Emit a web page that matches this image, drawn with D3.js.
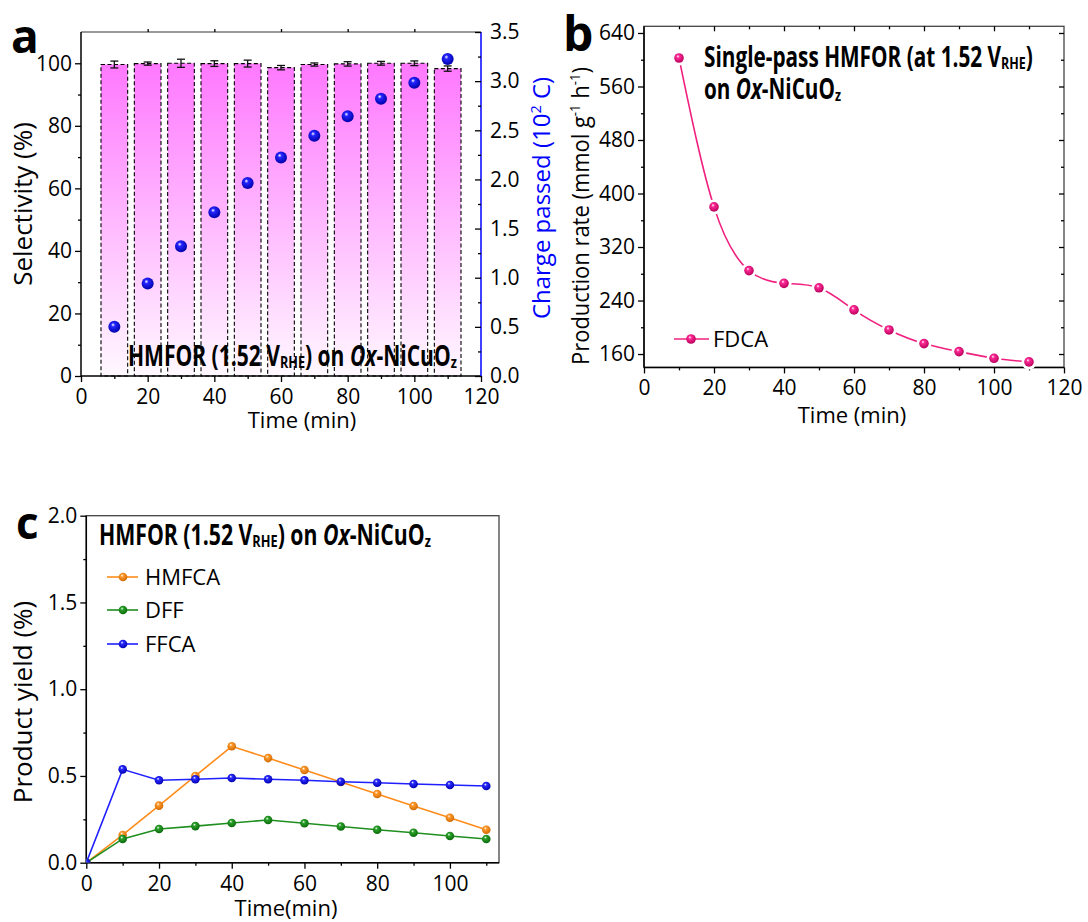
<!DOCTYPE html>
<html><head><meta charset="utf-8">
<script src="https://cdn.jsdelivr.net/npm/d3@7"></script>
<style>
body{margin:0;background:#fff}
svg{display:block}
text{font-family:'Open Sans',sans-serif}
.axis path,.axis line{stroke:#000;stroke-width:1.3}
.axis text{font-size:21px;fill:#000;font-family:'Open Sans',sans-serif}
</style>
</head><body>
<svg id="chart" width="1088" height="922"></svg>
<script>
// ---------- data ----------
const timesA = [10,20,30,40,50,60,70,80,90,100,110];
const selectivity = [99.6,99.9,100.0,99.9,99.9,98.6,99.6,99.8,100.0,100.0,98.3];
const selectivityErr = [1.1,0.5,1.3,0.9,1.1,0.7,0.5,0.7,0.6,0.75,0.85];
const chargePassed = [0.50,0.94,1.32,1.665,1.963,2.223,2.444,2.643,2.822,2.984,3.225];

const timesB = [10,20,30,40,50,60,70,80,90,100,110];
const fdcaRate = [602.6,380,284.7,265.7,259,226,196,175.6,163.6,153.6,148.2];

const timesC = [0,10,20,30,40,50,60,70,80,90,100,110];
const hmfcaYield = [0,0.16,0.329,0.50,0.671,0.603,0.534,0.465,0.396,0.327,0.259,0.19];
const dffYield   = [0,0.137,0.194,0.211,0.229,0.246,0.227,0.209,0.19,0.173,0.154,0.137];
const ffcaYield  = [0,0.538,0.475,0.481,0.488,0.481,0.475,0.467,0.461,0.454,0.448,0.442];

const ticksTime = [0,20,40,60,80,100,120];
const ticksSel = [0,20,40,60,80,100];
const ticksCharge = [0.0,0.5,1.0,1.5,2.0,2.5,3.0,3.5];
const ticksRate = [160,240,320,400,480,560,640];
const ticksTimeC = [0,20,40,60,80,100];
const ticksYield = [0.0,0.5,1.0,1.5,2.0];

// ---------- setup ----------
const svg = d3.select('#chart');
const defs = svg.append('defs');
function sphereGrad(id, base, dark){
  const g = defs.append('radialGradient').attr('id',id)
    .attr('cx','45%').attr('cy','40%').attr('r','60%').attr('fx','38%').attr('fy','32%');
  g.append('stop').attr('offset','0%').attr('stop-color','#ffffff');
  g.append('stop').attr('offset','28%').attr('stop-color',base);
  g.append('stop').attr('offset','100%').attr('stop-color',dark);
}
sphereGrad('sphBlue','#2424ff','#0000a8');
sphereGrad('sphPink','#ff2a95','#b8005c');
sphereGrad('sphOrange','#ff9a2e','#d06a00');
sphereGrad('sphGreen','#2aa02a','#0b6a0b');
sphereGrad('sphBlueC','#2a2aff','#0000b0');

// rich text; if o.width is given the text is horizontally scaled to that width
function richText(g, x, y, parts, o){
  const t = g.append('text').attr('x',0).attr('y',0)
    .attr('font-size',o.size).attr('font-weight',o.weight||'normal')
    .attr('fill',o.fill||'#000');
  if (o.anchor) t.attr('text-anchor',o.anchor);
  if (o.family) t.attr('font-family',o.family);
  let shift = 0;
  parts.forEach(p=>{
    const s = t.append('tspan').text(p.t);
    const target = p.sub ? o.size*0.08 : p.sup ? -o.size*0.38 : 0;
    if (target !== shift){ s.attr('dy', target-shift); shift = target; }
    if (p.sub || p.sup) s.attr('font-size', o.size*(p.scale||0.6));
    if (p.it) s.attr('font-style','italic');
  });
  let sx = 1;
  if (o.width){ const w = t.node().getBBox().width; sx = o.width / w; }
  const rot = o.rotate ? ` rotate(${o.rotate})` : '';
  t.attr('transform',`translate(${x},${y})${rot} scale(${sx},1)`);
  return t;
}
const annoParts = [
  {t:'HMFOR (1.52 V'},{t:'RHE',sub:true,scale:0.6},{t:') on '},{t:'Ox',it:true},
  {t:'-NiCuO'},{t:'z',sub:true,scale:0.6}
];

function addAxis(g, axis, transform){
  const a = g.append('g').attr('class','axis').attr('transform',transform).call(axis);
  a.select('.domain').remove();
  return a;
}

// =============== Panel a ===============
const gA = svg.append('g');
const xA = d3.scaleLinear([0,120],[81,481]);
const yA = d3.scaleLinear([0,110],[376,32]);
const yA2 = d3.scaleLinear([0,3.5],[376,32]);

const barGrad = defs.append('linearGradient').attr('id','barGrad')
  .attr('gradientUnits','userSpaceOnUse').attr('x1',0).attr('x2',0)
  .attr('y1',yA(100)).attr('y2',yA(0));
barGrad.append('stop').attr('offset','0%').attr('stop-color','#ff78ff');
barGrad.append('stop').attr('offset','100%').attr('stop-color','#fff8ff');

const barHalf = 4;
gA.selectAll('rect.bar').data(timesA).join('rect').attr('class','bar')
  .attr('x',d=>xA(d-barHalf)).attr('width',d=>xA(d+barHalf)-xA(d-barHalf))
  .attr('y',(d,i)=>yA(selectivity[i])).attr('height',(d,i)=>yA(0)-yA(selectivity[i]))
  .attr('fill','url(#barGrad)').attr('stroke','#000').attr('stroke-width',1.1)
  .attr('stroke-dasharray','4,2.5');

const eb = gA.selectAll('g.eb').data(timesA).join('g').attr('class','eb')
  .attr('stroke','#111').attr('stroke-width',1.3);
eb.append('line').attr('x1',d=>xA(d)).attr('x2',d=>xA(d))
  .attr('y1',(d,i)=>yA(selectivity[i]+selectivityErr[i])).attr('y2',(d,i)=>yA(selectivity[i]-selectivityErr[i]));
eb.append('line').attr('x1',d=>xA(d)-4).attr('x2',d=>xA(d)+4)
  .attr('y1',(d,i)=>yA(selectivity[i]+selectivityErr[i])).attr('y2',(d,i)=>yA(selectivity[i]+selectivityErr[i]));
eb.append('line').attr('x1',d=>xA(d)-4).attr('x2',d=>xA(d)+4)
  .attr('y1',(d,i)=>yA(selectivity[i]-selectivityErr[i])).attr('y2',(d,i)=>yA(selectivity[i]-selectivityErr[i]));

gA.append('line').attr('x1',xA(0)).attr('x2',xA(120)).attr('y1',yA(110)).attr('y2',yA(110))
  .attr('stroke','#777').attr('stroke-width',1.5);
gA.append('line').attr('x1',xA(0)).attr('x2',xA(0)).attr('y1',yA(110)).attr('y2',yA(0))
  .attr('stroke','#000').attr('stroke-width',1.5);
gA.append('line').attr('x1',xA(0)).attr('x2',xA(120)).attr('y1',yA(0)).attr('y2',yA(0))
  .attr('stroke','#000').attr('stroke-width',1.5);
gA.append('line').attr('x1',xA(120)).attr('x2',xA(120)).attr('y1',yA2(3.5)).attr('y2',yA2(0))
  .attr('stroke','#0000ff').attr('stroke-width',1.5);

addAxis(gA, d3.axisLeft(yA).tickValues(ticksSel).tickSize(6).tickPadding(3), `translate(${xA(0)},0)`);
addAxis(gA, d3.axisLeft(yA).tickValues(d3.range(10,110,20)).tickSize(3).tickFormat(''), `translate(${xA(0)},0)`);
addAxis(gA, d3.axisBottom(xA).tickValues(ticksTime).tickSize(6).tickPadding(7), `translate(0,${yA(0)})`);
addAxis(gA, d3.axisBottom(xA).tickValues(d3.range(10,120,20)).tickSize(3).tickFormat(''), `translate(0,${yA(0)})`);
addAxis(gA, d3.axisTop(xA).tickValues(ticksTime.slice(1,6)).tickSize(3).tickFormat(''), `translate(0,${yA(110)})`)
  .selectAll('line').attr('stroke','#777');
const rAx = addAxis(gA, d3.axisRight(yA2).tickValues(ticksCharge).tickSize(-6).tickPadding(9).tickFormat(d3.format('.1f')), `translate(${xA(120)},0)`);
rAx.selectAll('line').attr('stroke','#0000ff');
rAx.selectAll('text').attr('fill','#0000ff');
addAxis(gA, d3.axisRight(yA2).tickValues(d3.range(0.25,3.5,0.5)).tickSize(-3).tickFormat(''), `translate(${xA(120)},0)`)
  .selectAll('line').attr('stroke','#0000ff');

gA.selectAll('circle.ch').data(timesA).join('circle').attr('class','ch')
  .attr('cx',d=>xA(d)).attr('cy',(d,i)=>yA2(chargePassed[i])).attr('r',6)
  .attr('fill','url(#sphBlue)');

gA.append('text').attr('x',302).attr('y',428).attr('text-anchor','middle').attr('font-size',22).text('Time (min)');
gA.append('text').attr('transform','translate(32,204) rotate(-90)').attr('text-anchor','middle').attr('font-size',26).text('Selectivity (%)');
richText(gA,550,198,[{t:'Charge passed (10'},{t:'2',sup:true},{t:' C)'}],
  {size:24,anchor:'middle',fill:'#0000ff',rotate:-90});
richText(gA,128,366,annoParts,{size:28,weight:'bold',width:329});
gA.append('text').attr('x',11).attr('y',53).attr('font-size',46).attr('font-weight','bold')
  .attr('font-family','Liberation Sans, Arial, sans-serif').text('a');

// =============== Panel b ===============
const gB = svg.append('g');
const xB = d3.scaleLinear([0,120],[644,1064]);
const yB = d3.scaleLinear([140,650],[367.4,26.3]);

gB.append('rect').attr('x',xB(0)).attr('y',yB(650)).attr('width',xB(120)-xB(0)).attr('height',yB(140)-yB(650))
  .attr('fill','none').attr('stroke','#444').attr('stroke-width',1.3);
gB.append('line').attr('x1',xB(0)).attr('x2',xB(0)).attr('y1',yB(650)).attr('y2',yB(140)).attr('stroke','#000').attr('stroke-width',1.5);
gB.append('line').attr('x1',xB(0)).attr('x2',xB(120)).attr('y1',yB(140)).attr('y2',yB(140)).attr('stroke','#000').attr('stroke-width',1.5);

addAxis(gB, d3.axisLeft(yB).tickValues(ticksRate).tickSize(6).tickPadding(3), `translate(${xB(0)},0)`);
addAxis(gB, d3.axisLeft(yB).tickValues(d3.range(200,640,80)).tickSize(3).tickFormat(''), `translate(${xB(0)},0)`);
addAxis(gB, d3.axisRight(yB).tickValues(ticksRate).tickSize(-5).tickFormat(''), `translate(${xB(120)},0)`).selectAll('line').attr('stroke','#444');
addAxis(gB, d3.axisRight(yB).tickValues(d3.range(200,640,80)).tickSize(-3).tickFormat(''), `translate(${xB(120)},0)`).selectAll('line').attr('stroke','#444');
addAxis(gB, d3.axisBottom(xB).tickValues(ticksTime).tickSize(6).tickPadding(7), `translate(0,${yB(140)})`);
addAxis(gB, d3.axisBottom(xB).tickValues(d3.range(10,120,20)).tickSize(3).tickFormat(''), `translate(0,${yB(140)})`);
addAxis(gB, d3.axisTop(xB).tickValues(ticksTime.slice(1,6)).tickSize(-5).tickFormat(''), `translate(0,${yB(650)})`).selectAll('line').attr('stroke','#444');
addAxis(gB, d3.axisTop(xB).tickValues(d3.range(10,120,20)).tickSize(-3).tickFormat(''), `translate(0,${yB(650)})`).selectAll('line').attr('stroke','#444');

const lineB = d3.line().x(d=>xB(d[0])).y(d=>yB(d[1])).curve(d3.curveNatural);
const ptsB = timesB.map((t,i)=>[t,fdcaRate[i]]);
gB.append('path').attr('d',lineB(ptsB)).attr('fill','none').attr('stroke','#f0207f').attr('stroke-width',1.6);
gB.selectAll('circle.halo').data(ptsB).join('circle').attr('class','halo')
  .attr('cx',d=>xB(d[0])).attr('cy',d=>yB(d[1])).attr('r',7.5).attr('fill','#fff');
gB.selectAll('circle.pt').data(ptsB).join('circle').attr('class','pt')
  .attr('cx',d=>xB(d[0])).attr('cy',d=>yB(d[1])).attr('r',4.8).attr('fill','url(#sphPink)');

gB.append('line').attr('x1',674).attr('x2',709).attr('y1',339).attr('y2',339).attr('stroke','#f0207f').attr('stroke-width',1.6);
gB.append('circle').attr('cx',691).attr('cy',339).attr('r',4.8).attr('fill','url(#sphPink)');
gB.append('text').attr('x',713).attr('y',347).attr('font-size',22).text('FDCA');

richText(gB,704,67,[{t:'Single-pass HMFOR (at 1.52 V'},{t:'RHE',sub:true,scale:0.6},{t:')'}],{size:28,weight:'bold',width:329});
richText(gB,704,99,[{t:'on '},{t:'Ox',it:true},{t:'-NiCuO'},{t:'z',sub:true,scale:0.6}],{size:28,weight:'bold',width:137});

gB.append('text').attr('x',852).attr('y',423).attr('text-anchor','middle').attr('font-size',22).text('Time (min)');
richText(gB,589,216,[{t:'Production rate  (mmol g'},{t:'-1',sup:true},{t:' h'},{t:'-1',sup:true},{t:')'}],
  {size:23,anchor:'middle',rotate:-90,width:298});
gB.append('text').attr('x',563).attr('y',51).attr('font-size',48).attr('font-weight','bold')
  .attr('font-family','Liberation Sans, Arial, sans-serif').text('b');

// =============== Panel c ===============
const gC = svg.append('g');
const xC = d3.scaleLinear([0,113.5],[86.3,499]);
const yC = d3.scaleLinear([0,2],[862.7,515.7]);

gC.append('rect').attr('x',xC(0)).attr('y',yC(2)).attr('width',xC(113.5)-xC(0)).attr('height',yC(0)-yC(2))
  .attr('fill','none').attr('stroke','#444').attr('stroke-width',1.3);
gC.append('line').attr('x1',xC(0)).attr('x2',xC(0)).attr('y1',yC(2)).attr('y2',yC(0)).attr('stroke','#000').attr('stroke-width',1.5);
gC.append('line').attr('x1',xC(0)).attr('x2',xC(113.5)).attr('y1',yC(0)).attr('y2',yC(0)).attr('stroke','#000').attr('stroke-width',1.5);
addAxis(gC, d3.axisLeft(yC).tickValues(ticksYield).tickSize(6).tickPadding(3).tickFormat(d3.format('.1f')), `translate(${xC(0)},0)`);
addAxis(gC, d3.axisLeft(yC).tickValues(d3.range(0.25,2,0.5)).tickSize(3).tickFormat(''), `translate(${xC(0)},0)`);
addAxis(gC, d3.axisBottom(xC).tickValues(ticksTimeC).tickSize(6).tickPadding(7), `translate(0,${yC(0)})`);
addAxis(gC, d3.axisBottom(xC).tickValues(d3.range(10,120,20)).tickSize(3).tickFormat(''), `translate(0,${yC(0)})`);

const clipC = defs.append('clipPath').attr('id','clipC');
clipC.append('rect').attr('x',xC(0)).attr('y',yC(2)).attr('width',xC(113.5)-xC(0)+6).attr('height',yC(0)-yC(2));
const plotC = gC.append('g').attr('clip-path','url(#clipC)');
const seriesC = [
  {name:'HMFCA', vals:hmfcaYield, color:'#ff8c1a', grad:'sphOrange'},
  {name:'DFF', vals:dffYield, color:'#1f8f1f', grad:'sphGreen'},
  {name:'FFCA', vals:ffcaYield, color:'#1f1fff', grad:'sphBlueC'}
];
const lineC = d3.line().x(d=>xC(d[0])).y(d=>yC(d[1]));
seriesC.forEach(s=>{
  const pts = timesC.map((t,i)=>[t,s.vals[i]]);
  plotC.append('path').attr('d',lineC(pts)).attr('fill','none').attr('stroke',s.color).attr('stroke-width',1.6);
  plotC.selectAll(null).data(pts).join('circle')
    .attr('cx',d=>xC(d[0])).attr('cy',d=>yC(d[1])).attr('r',4.3).attr('fill',`url(#${s.grad})`);
});
const legY = [577,610,644];
seriesC.forEach((s,i)=>{
  gC.append('line').attr('x1',107).attr('x2',138).attr('y1',legY[i]).attr('y2',legY[i]).attr('stroke',s.color).attr('stroke-width',1.6);
  gC.append('circle').attr('cx',123).attr('cy',legY[i]).attr('r',4.3).attr('fill',`url(#${s.grad})`);
  gC.append('text').attr('x',145).attr('y',legY[i]+8).attr('font-size',22).text(s.name);
});
richText(gC,99,545,annoParts,{size:28,weight:'bold',width:332});
gC.append('text').attr('x',286).attr('y',916).attr('text-anchor','middle').attr('font-size',22).text('Time(min)');
gC.append('text').attr('transform','translate(32,702) rotate(-90)').attr('text-anchor','middle').attr('font-size',26).text('Product yield (%)');
gC.append('text').attr('x',16).attr('y',539).attr('font-size',44).attr('font-weight','bold')
  .attr('font-family','Liberation Sans, Arial, sans-serif').text('c');
</script>
</body></html>
